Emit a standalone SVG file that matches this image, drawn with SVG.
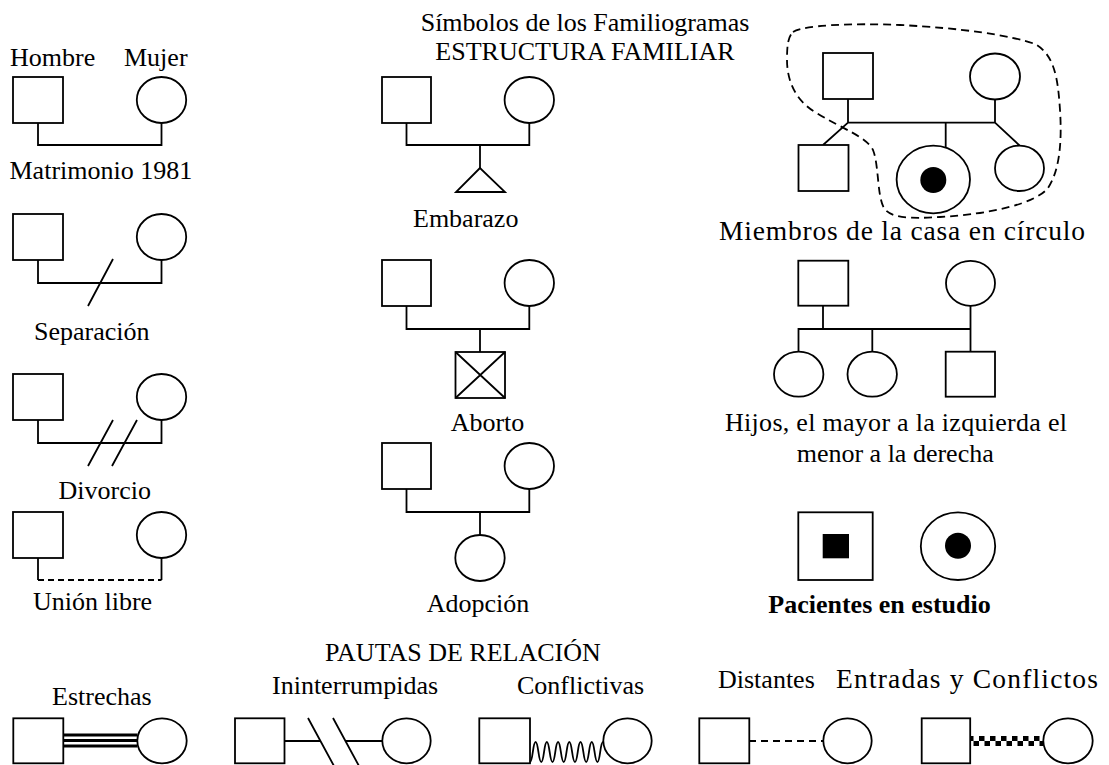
<svg xmlns="http://www.w3.org/2000/svg" width="1109" height="765" viewBox="0 0 1109 765">
<defs>
<style>
.s{fill:#fff;stroke:#000;stroke-width:1.8}
.l{fill:none;stroke:#000;stroke-width:1.8}
.d{fill:none;stroke:#000;stroke-width:1.8;stroke-dasharray:6,4}
.f{fill:#000;stroke:none}
text{font-family:"Liberation Serif","Times New Roman",serif;font-size:26px;fill:#000}
.b{font-weight:bold}
.w{font-size:27.5px}
</style>
<pattern id="chk" x="0" y="736" width="11" height="10" patternUnits="userSpaceOnUse">
<rect x="0" y="0" width="5.5" height="5" fill="#000"/>
<rect x="5.5" y="5" width="5.5" height="5" fill="#000"/>
</pattern>
</defs>
<rect width="1109" height="765" fill="#fff"/>

<g id="labels">
<text x="10" y="66">Hombre</text>
<text x="124" y="66">Mujer</text>
<text x="9.5" y="179">Matrimonio 1981</text>
<text x="34" y="340">Separación</text>
<text x="58.5" y="499">Divorcio</text>
<text x="33" y="610">Unión libre</text>
<text x="585" y="31" text-anchor="middle">Símbolos de los Familiogramas</text>
<text x="585" y="60" text-anchor="middle">ESTRUCTURA FAMILIAR</text>
<text x="413" y="227">Embarazo</text>
<text x="450.7" y="431">Aborto</text>
<text x="426.7" y="612">Adopción</text>
<text x="719" y="240" class="w" textLength="366" lengthAdjust="spacing">Miembros de la casa en círculo</text>
<text x="725" y="430.5" textLength="342" lengthAdjust="spacing">Hijos, el mayor a la izquierda el</text>
<text x="796.7" y="461.7">menor a la derecha</text>
<text x="768.3" y="613" class="b">Pacientes en estudio</text>
<text x="325" y="661">PAUTAS DE RELACIÓN</text>
<text x="52" y="705">Estrechas</text>
<text x="272" y="694">Ininterrumpidas</text>
<text x="517" y="694">Conflictivas</text>
<text x="718" y="688">Distantes</text>
<text x="836" y="688" class="w" textLength="262" lengthAdjust="spacing">Entradas y Conflictos</text>
</g>

<g id="connectors">
<path class="l" d="M38,123 V145 H161.5 V123"/>
<path class="l" d="M38,260 V283 H161.5 V260 M88,306 L113,259"/>
<path class="l" d="M38,420 V443 H161.5 V420 M88,466 L113,420 M112,466 L137,420"/>
<path class="l" d="M38,558 V580 M161.5,558 V580"/>
<path class="d" d="M38,580 H161.5"/>
<path class="l" d="M406.5,123 V145 H529.3 V123 M480,145 V168"/>
<path class="l" d="M406.5,306 V329 H529.3 V306 M480,329 V352"/>
<path class="l" d="M406.5,489 V512 H529.3 V489 M480,512 V535"/>
<path class="l" d="M848,99 V122.7 H995 V99 M848,122.7 L823,145 M945.7,122.7 V147.5 M995,122.7 L1019.5,145.5"/>
<path class="l" d="M823,306 V329 M798.5,352 V329 H970.5 M970.5,306 V352 M872.3,329 V352"/>
<path class="d" d="M793,32 C805,25 850,23 900,25 C960,28 1010,35 1035,44 C1055,55 1058,80 1060,110 C1062,140 1060,170 1048,188 C1035,204 990,214 940,217 C910,219 890,218 884,208 C877,196 879,165 873,150 C866,136 840,128 815,112 C795,100 787,80 787,60 C787,45 788,37 793,32 Z" style="stroke-dasharray:8,5"/>
<path d="M63,735 H137.5 M63,740.5 H137.5 M63,746 H137.5" fill="none" stroke="#000" stroke-width="3"/>
<path class="l" d="M285,741 H320 M345,741 H382 M308,718 L334,766 M333,718 L359,766"/>
<path class="l" d="M530,762 c2.8,0 2.8,-20 5.615,-20 c2.8,0 2.8,20 5.615,20 c2.8,0 2.8,-20 5.615,-20 c2.8,0 2.8,20 5.615,20 c2.8,0 2.8,-20 5.615,-20 c2.8,0 2.8,20 5.615,20 c2.8,0 2.8,-20 5.615,-20 c2.8,0 2.8,20 5.615,20 c2.8,0 2.8,-20 5.615,-20 c2.8,0 2.8,20 5.615,20 c2.8,0 2.8,-20 5.615,-20 c2.8,0 2.8,20 5.615,20 c2.8,0 2.8,-20 5.615,-20"/>
<path d="M749,741 H823" fill="none" stroke="#000" stroke-width="1.8" stroke-dasharray="7,5"/>
<rect x="971" y="736" width="72" height="10" fill="url(#chk)"/>
</g>

<g id="n-hombre1"><rect class="s" x="13" y="77" width="50" height="46"/></g>
<g id="n-mujer1"><ellipse class="s" cx="161.5" cy="100" rx="24.7" ry="23"/></g>
<g id="n-hombre2"><rect class="s" x="13" y="214" width="50" height="46"/></g>
<g id="n-mujer2"><ellipse class="s" cx="161.5" cy="237" rx="24.7" ry="23"/></g>
<g id="n-hombre3"><rect class="s" x="13" y="374" width="50" height="46"/></g>
<g id="n-mujer3"><ellipse class="s" cx="161.5" cy="397" rx="24.7" ry="23"/></g>
<g id="n-hombre4"><rect class="s" x="13" y="512" width="50" height="46"/></g>
<g id="n-mujer4"><ellipse class="s" cx="161.5" cy="535" rx="24.7" ry="23"/></g>

<g id="n-emb-h"><rect class="s" x="382" y="77" width="49" height="46"/></g>
<g id="n-emb-m"><ellipse class="s" cx="529.3" cy="100" rx="24.7" ry="23"/></g>
<g id="n-embarazo"><polygon class="s" points="480,168 456,192 505,192"/></g>
<g id="n-abo-h"><rect class="s" x="382" y="260" width="49" height="46"/></g>
<g id="n-abo-m"><ellipse class="s" cx="529.3" cy="283" rx="24.7" ry="23"/></g>
<g id="n-aborto"><rect class="s" x="455.5" y="352" width="49.5" height="46"/><path class="l" d="M455.5,352 L505,398 M505,352 L455.5,398"/></g>
<g id="n-ado-h"><rect class="s" x="382" y="443" width="49" height="46"/></g>
<g id="n-ado-m"><ellipse class="s" cx="529.3" cy="466" rx="24.7" ry="23"/></g>
<g id="n-adopcion"><ellipse class="s" cx="480" cy="558" rx="24.7" ry="23"/></g>

<g id="n-casa-padre"><rect class="s" x="823" y="53" width="50" height="46"/></g>
<g id="n-casa-madre"><ellipse class="s" cx="995" cy="76.5" rx="25" ry="23"/></g>
<g id="n-casa-hijo"><rect class="s" x="798.5" y="145" width="50" height="46"/></g>
<g id="n-casa-paciente"><ellipse class="s" cx="933.3" cy="179.5" rx="36.7" ry="33.8"/><circle class="f" cx="933.3" cy="180" r="13"/></g>
<g id="n-casa-hija"><ellipse class="s" cx="1019.5" cy="168.3" rx="24.5" ry="22.7"/></g>

<g id="n-hijos-padre"><rect class="s" x="798.3" y="260.7" width="50" height="45"/></g>
<g id="n-hijos-madre"><ellipse class="s" cx="970.5" cy="283.3" rx="24.5" ry="22.5"/></g>
<g id="n-hijo1"><ellipse class="s" cx="798.7" cy="374.2" rx="24.7" ry="22.5"/></g>
<g id="n-hijo2"><ellipse class="s" cx="872.2" cy="374.2" rx="24.7" ry="22.5"/></g>
<g id="n-hijo3"><rect class="s" x="945.7" y="351.7" width="49.3" height="45"/></g>

<g id="n-paciente-h"><rect class="s" x="798.3" y="512.3" width="74.4" height="67.7"/><rect class="f" x="822.7" y="534" width="26.3" height="24.3"/></g>
<g id="n-paciente-m"><ellipse class="s" cx="958" cy="546.2" rx="37.2" ry="33.8"/><circle class="f" cx="958" cy="545.8" r="13"/></g>

<g id="n-estr-h"><rect class="s" x="13.3" y="718.3" width="50" height="45"/></g>
<g id="n-estr-m"><ellipse class="s" cx="162" cy="740.8" rx="24.7" ry="22.5"/></g>
<g id="n-inin-h"><rect class="s" x="235" y="718.3" width="49.5" height="45"/></g>
<g id="n-inin-m"><ellipse class="s" cx="406.5" cy="740.8" rx="24.2" ry="22.5"/></g>
<g id="n-conf-h"><rect class="s" x="479.3" y="718.3" width="50.7" height="45"/></g>
<g id="n-conf-m"><ellipse class="s" cx="627.5" cy="740.8" rx="24.2" ry="22.5"/></g>
<g id="n-dist-h"><rect class="s" x="699.3" y="718.3" width="50" height="45"/></g>
<g id="n-dist-m"><ellipse class="s" cx="847.5" cy="740.8" rx="24.2" ry="22.5"/></g>
<g id="n-entr-h"><rect class="s" x="921.7" y="718.3" width="48.5" height="45"/></g>
<g id="n-entr-m"><ellipse class="s" cx="1068" cy="740.8" rx="24.7" ry="22.5"/></g>
</svg>
